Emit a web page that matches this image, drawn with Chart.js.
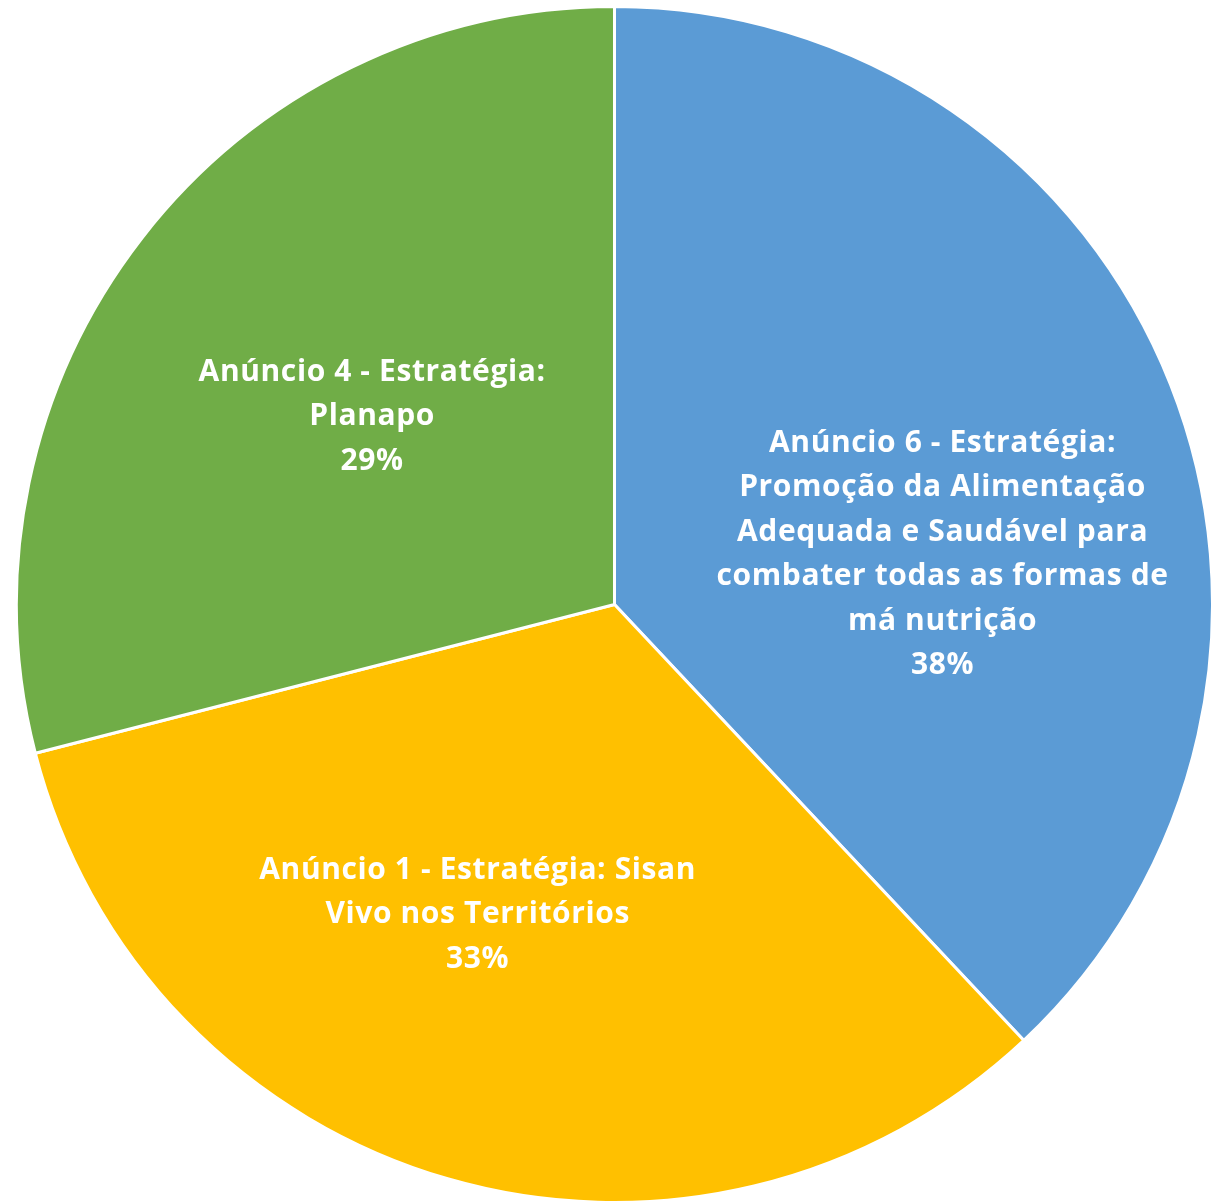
<!DOCTYPE html>
<html>
<head>
<meta charset="utf-8">
<script src="https://cdn.jsdelivr.net/npm/chart.js@4.4.1/dist/chart.umd.min.js"></script>
<style>
  html, body { margin: 0; padding: 0; background: #ffffff; }
  #wrap { width: 1217px; height: 1204px; position: relative; }
</style>
</head>
<body>
<div id="wrap"><canvas id="pie-chart"></canvas></div>
<script>
// slice data, clockwise from 12 o'clock
var categories = [
  "Anúncio 6 - Estratégia: Promoção da Alimentação Adequada e Saudável para combater todas as formas de má nutrição",
  "Anúncio 1 - Estratégia: Sisan Vivo nos Territórios",
  "Anúncio 4 - Estratégia: Planapo"
];
var percentages = [38, 33, 29];

// how the category text wraps inside each slice
var labelLines = [
  ["Anúncio 6 - Estratégia:", "Promoção da Alimentação", "Adequada e Saudável para", "combater todas as formas de", "má nutrição"],
  ["Anúncio 1 - Estratégia: Sisan", "Vivo nos Territórios"],
  ["Anúncio 4 - Estratégia:", "Planapo"]
];

var sliceColors = ["#5B9BD5", "#FFC000", "#70AD47"];

// label placement: fraction of radius, and angle nudge (degrees) from slice middle
var labelRadius = [0.555, 0.567, 0.513];
var labelNudge = [12.9, 7.6, 0];

const sliceLabels = {
  id: "sliceLabels",
  afterDatasetsDraw(chart) {
    const ctx = chart.ctx;
    const meta = chart.getDatasetMeta(0);
    const lineHeight = 44.5;
    ctx.save();
    ctx.font = "bold 30px 'Open Sans', sans-serif";
    ctx.letterSpacing = "0.6px";
    ctx.fillStyle = "#ffffff";
    ctx.textAlign = "center";
    ctx.textBaseline = "middle";
    meta.data.forEach((arc, i) => {
      const p = arc.getProps(["x", "y", "startAngle", "endAngle", "outerRadius"], true);
      const mid = (p.startAngle + p.endAngle) / 2 + labelNudge[i] * Math.PI / 180;
      const r = p.outerRadius * labelRadius[i];
      const cx = p.x + Math.cos(mid) * r;
      const cy = p.y + Math.sin(mid) * r;
      const lines = labelLines[i].concat([percentages[i] + "%"]);
      const top = cy - (lines.length - 1) * lineHeight / 2;
      lines.forEach((line, j) => {
        ctx.fillText(line, cx, top + j * lineHeight);
      });
    });
    ctx.restore();
  }
};

document.addEventListener("DOMContentLoaded", function () {
  const ctx = document.getElementById("pie-chart").getContext("2d");
  new Chart(ctx, {
    type: "pie",
    data: {
      labels: categories,
      datasets: [
        {
          data: percentages,
          backgroundColor: sliceColors,
          borderColor: "#ffffff",
          borderWidth: 3,
        },
      ],
    },
    options: {
      responsive: true,
      maintainAspectRatio: false,
      animation: false,
      layout: { padding: { left: 15, right: 3, top: 5, bottom: 0 } },
      plugins: {
        legend: { display: false },
        tooltip: { enabled: false },
      },
    },
    plugins: [sliceLabels],
  });
});
</script>
</body>
</html>
